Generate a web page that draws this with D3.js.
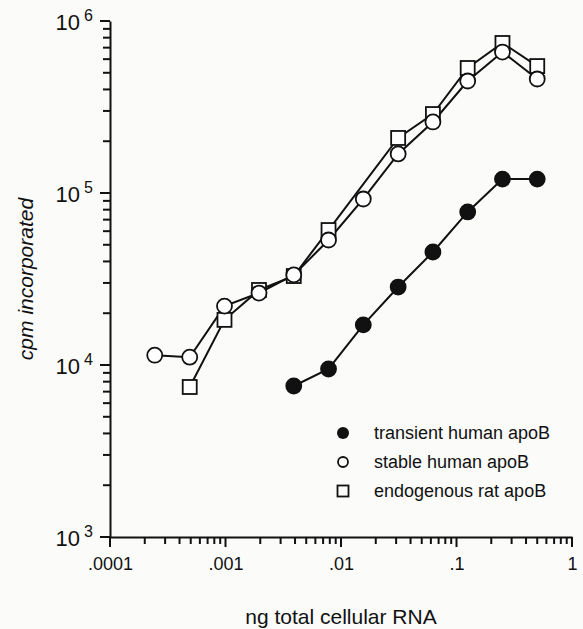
<!DOCTYPE html>
<html>
<head>
<meta charset="utf-8">
<script src="https://cdn.jsdelivr.net/npm/d3@7"></script>
<style>
  html, body { margin: 0; padding: 0; background: #fbfbfa; }
  svg { display: block; }
  text { font-family: "Liberation Sans", Arial, Helvetica, sans-serif; fill: #111; }
</style>
</head>
<body>
<svg id="chart"></svg>
<script>
// ng of total cellular RNA (2-fold dilution series)
const rnaAmounts = [0.000244, 0.00049, 0.00098, 0.00195, 0.0039, 0.0078, 0.0156, 0.03125, 0.0625, 0.125, 0.25, 0.5];

// cpm incorporated, null = no point
const transient = [null, null, null, null, 7550, 9480, 17100, 28400, 45400, 77600, 120500, 120500];
const stable = [11400, 11100, 22000, 26200, 33400, 53300, 92300, 168700, 258800, 448000, 660000, 460000];
const endogenous = [null, 7450, 18300, 27300, 32900, 60900, null, 208900, 287700, 533000, 745000, 547000];

const xTicks = [0.0001, 0.001, 0.01, 0.1, 1];
const xTickLabels = ['.0001', '.001', '.01', '.1', '1'];
const yTicks = [1e3, 1e4, 1e5, 1e6];
const yExponents = ['3', '4', '5', '6'];

const legendLabels = ['transient human apoB', 'stable human apoB', 'endogenous rat apoB'];

const width = 583, height = 629;
const plot = { left: 110, right: 572, top: 21, bottom: 537 };

const svg = d3.select('#chart')
  .attr('width', width)
  .attr('height', height);

const x = d3.scaleLog().domain([0.0001, 1]).range([plot.left, plot.right]);
const y = d3.scaleLog().domain([1e3, 1e6]).range([plot.bottom, plot.top]);

const isDecade = v => Math.abs(Math.log10(v) - Math.round(Math.log10(v))) < 1e-9;
const xMinor = x.ticks().filter(v => !isDecade(v));
const yMinor = y.ticks().filter(v => !isDecade(v));

const ink = '#111';

// axis lines + labels
svg.append('g')
  .attr('class', 'x axis')
  .attr('transform', `translate(0,${plot.bottom})`)
  .call(d3.axisBottom(x).tickValues(xTicks).tickSize(0).tickPadding(0)
    .tickFormat((d, i) => xTickLabels[i]))
  .call(g => g.selectAll('.tick text')
    .attr('y', 27)
    .attr('dy', '0.32em')
    .style('font-size', '18px'));

const yAxis = svg.append('g')
  .attr('class', 'y axis')
  .attr('transform', `translate(${plot.left},0)`)
  .call(d3.axisLeft(y).tickValues(yTicks).tickSize(0).tickFormat(''));

yAxis.selectAll('.tick').each(function(d, i) {
  const t = d3.select(this).append('text')
    .attr('x', -17)
    .attr('y', 8)
    .attr('text-anchor', 'end')
    .style('font-size', '22px');
  t.append('tspan').text('10');
  t.append('tspan')
    .attr('dx', 4)
    .attr('dy', -9)
    .style('font-size', '16px')
    .text(yExponents[i]);
});

svg.selectAll('.domain')
  .attr('stroke', ink)
  .attr('stroke-width', 2);

// tick marks, outward
const xMarks = xMinor.map(v => ({ v, len: 7 })).concat(xTicks.map(v => ({ v, len: 10 })));
const yMarks = yMinor.map(v => ({ v, len: 7 })).concat(yTicks.map(v => ({ v, len: 10 })));

svg.append('g').selectAll('line')
  .data(xMarks)
  .enter()
  .append('line')
  .attr('x1', d => x(d.v))
  .attr('x2', d => x(d.v))
  .attr('y1', plot.bottom)
  .attr('y2', d => plot.bottom + d.len)
  .attr('stroke', ink)
  .attr('stroke-width', 2);

svg.append('g').selectAll('line')
  .data(yMarks)
  .enter()
  .append('line')
  .attr('x1', plot.left)
  .attr('x2', d => plot.left - d.len)
  .attr('y1', d => y(d.v))
  .attr('y2', d => y(d.v))
  .attr('stroke', ink)
  .attr('stroke-width', 2);

// axis titles
svg.append('text')
  .attr('x', (plot.left + plot.right) / 2)
  .attr('y', 624)
  .attr('text-anchor', 'middle')
  .style('font-size', '21px')
  .text('ng total cellular RNA');

svg.append('text')
  .attr('transform', `translate(33,${(plot.top + plot.bottom) / 2}) rotate(-90)`)
  .attr('text-anchor', 'middle')
  .style('font-size', '21px')
  .style('font-style', 'italic')
  .text('cpm incorporated');

// series
const toPoints = vals => rnaAmounts
  .map((a, i) => ({ x: a, y: vals[i] }))
  .filter(d => d.y != null);

const line = d3.line()
  .x(d => x(d.x))
  .y(d => y(d.y));

const series = [
  { name: 'endogenous', pts: toPoints(endogenous), shape: 'square' },
  { name: 'stable', pts: toPoints(stable), shape: 'open' },
  { name: 'transient', pts: toPoints(transient), shape: 'filled' }
];

series.forEach(s => {
  svg.append('path')
    .datum(s.pts)
    .attr('fill', 'none')
    .attr('stroke', ink)
    .attr('stroke-width', 2)
    .attr('d', line);
});

series.forEach(s => {
  if (s.shape === 'square') {
    svg.selectAll('.pt-' + s.name)
      .data(s.pts)
      .enter()
      .append('rect')
      .attr('x', d => x(d.x) - 7)
      .attr('y', d => y(d.y) - 7)
      .attr('width', 14)
      .attr('height', 14)
      .attr('fill', '#fff')
      .attr('stroke', ink)
      .attr('stroke-width', 1.8);
  } else {
    svg.selectAll('.pt-' + s.name)
      .data(s.pts)
      .enter()
      .append('circle')
      .attr('cx', d => x(d.x))
      .attr('cy', d => y(d.y))
      .attr('r', 7.5)
      .attr('fill', s.shape === 'filled' ? ink : '#fff')
      .attr('stroke', ink)
      .attr('stroke-width', 1.8);
  }
});

// legend
const legend = svg.append('g').attr('transform', 'translate(343,433)');
const rowGap = 29;

legend.append('circle')
  .attr('cx', 0).attr('cy', 0).attr('r', 6)
  .attr('fill', ink);
legend.append('circle')
  .attr('cx', 0).attr('cy', rowGap).attr('r', 5)
  .attr('fill', 'none').attr('stroke', ink).attr('stroke-width', 1.8);
legend.append('rect')
  .attr('x', -5.5).attr('y', rowGap * 2 - 5.5).attr('width', 11).attr('height', 11)
  .attr('fill', 'none').attr('stroke', ink).attr('stroke-width', 1.8);

legend.selectAll('.lab')
  .data(legendLabels)
  .enter()
  .append('text')
  .attr('x', 31)
  .attr('y', (d, i) => i * rowGap + 6)
  .style('font-size', '18px')
  .text(d => d);
</script>
</body>
</html>
